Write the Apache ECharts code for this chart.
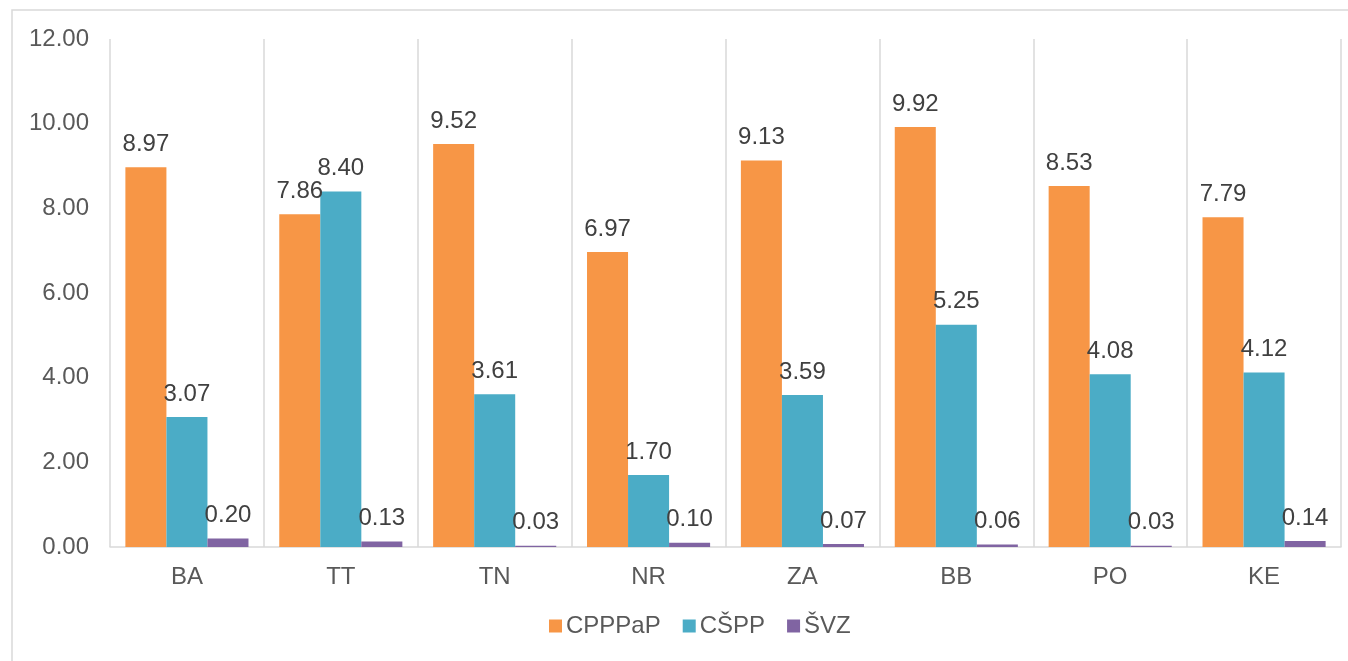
<!DOCTYPE html>
<html>
<head>
<meta charset="utf-8">
<script src="https://cdn.jsdelivr.net/npm/echarts@6/dist/echarts.min.js"></script>
<style>
  html, body { margin: 0; padding: 0; background: #fff; }
  #main { width: 1348px; height: 661px; }
</style>
</head>
<body>
<div id="main"></div>
<script>
// kraje
var categories = ['BA', 'TT', 'TN', 'NR', 'ZA', 'BB', 'PO', 'KE'];
var cpppap = [8.97, 7.86, 9.52, 6.97, 9.13, 9.92, 8.53, 7.79];
var cspp = [3.07, 8.40, 3.61, 1.70, 3.59, 5.25, 4.08, 4.12];
var svz = [0.20, 0.13, 0.03, 0.10, 0.07, 0.06, 0.03, 0.14];
var yTicks = [0, 2, 4, 6, 8, 10, 12];

var chart = echarts.init(document.getElementById('main'), null, { renderer: 'canvas' });

var font = 'Liberation Sans, Arial, sans-serif';

function makeSeries(name, data, color) {
  return {
    name: name,
    type: 'bar',
    data: data,
    barGap: '0%',
    barCategoryGap: '20%',
    itemStyle: { color: color },
    label: {
      show: true,
      position: 'top',
      distance: 11,
      color: '#404040',
      fontSize: 24,
      fontFamily: font,
      formatter: function (p) { return p.value.toFixed(2); }
    }
  };
}

var option = {
  animation: false,
  textStyle: { fontFamily: font },
  graphic: [{
    type: 'rect',
    shape: { x: 12, y: 10, width: 1400, height: 700 },
    style: { fill: 'none', stroke: '#d9d9d9', lineWidth: 1.5 },
    silent: true
  }],
  grid: { left: 110, right: 7, top: 39, bottom: 114, containLabel: false },
  legend: {
    bottom: 18,
    left: 544,
    itemWidth: 13,
    itemHeight: 13,
    itemGap: 22,
    icon: 'rect',
    textStyle: { color: '#595959', fontSize: 24, fontFamily: font, padding: [0, 0, 0, -1] },
    data: ['CPPPaP', 'CŠPP', 'ŠVZ']
  },
  xAxis: {
    type: 'category',
    data: categories,
    axisLine: { lineStyle: { color: '#d9d9d9', width: 1.5 } },
    axisTick: { show: false },
    splitLine: { show: true, lineStyle: { color: '#d9d9d9', width: 1.5 } },
    axisLabel: { color: '#595959', fontSize: 24, margin: 18, fontFamily: font }
  },
  yAxis: {
    type: 'value',
    min: yTicks[0],
    max: yTicks[yTicks.length - 1],
    interval: 2,
    axisLine: { show: false },
    axisTick: { show: false },
    splitLine: { show: false },
    axisLabel: {
      color: '#595959',
      fontSize: 24,
      margin: 21,
      fontFamily: font,
      formatter: function (v) { return v.toFixed(2); }
    }
  },
  series: [
    makeSeries('CPPPaP', cpppap, '#F79646'),
    makeSeries('CŠPP', cspp, '#4BACC6'),
    makeSeries('ŠVZ', svz, '#8064A2')
  ]
};

chart.setOption(option);
</script>
</body>
</html>
